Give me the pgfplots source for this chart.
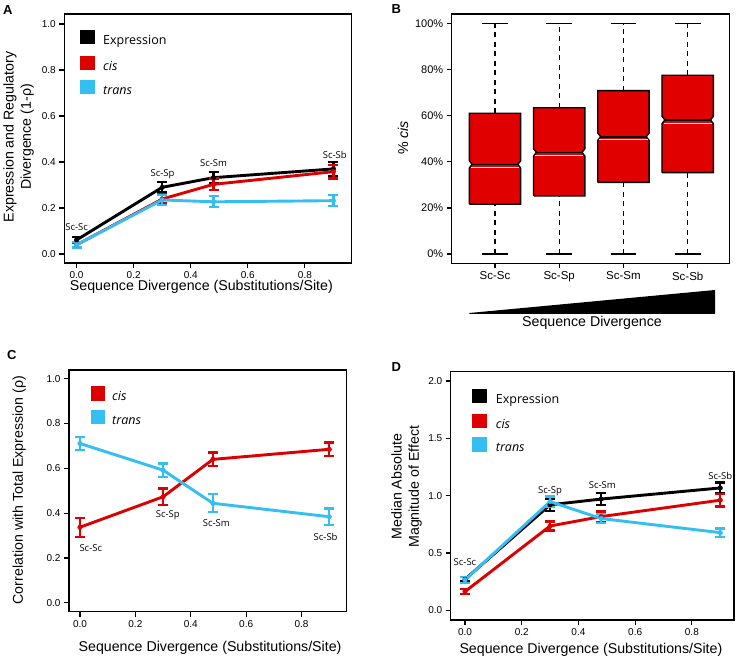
\documentclass[border=0pt]{standalone}
\usepackage{fontspec}
\setmainfont{Liberation Sans}
\newfontfamily\myr{Open Sans}
\usepackage{pgfplots}
\pgfplotsset{compat=1.18}
\definecolor{cisred}{RGB}{220,0,0}
\definecolor{transblue}{RGB}{52,190,242}
\definecolor{boxred}{RGB}{224,0,0}
\pgfplotsset{
 panel/.style={scale only axis, anchor=south west, clip=false,
   axis line style={line width=1.5pt},
   xtick pos=left, ytick pos=left, tick align=outside, major tick length=5pt,
   every tick/.style={black, line width=1.2pt},
   tick label style={font=\fontsize{10}{12}\selectfont},
   /pgf/number format/assume math mode=true,
   label style={font=\fontsize{14.2}{17.3}\selectfont},
   xticklabel style={/pgf/number format/fixed, /pgf/number format/fixed zerofill, /pgf/number format/precision=1},
   yticklabel style={/pgf/number format/fixed, /pgf/number format/fixed zerofill, /pgf/number format/precision=1}},
 ser/.style={line width=2.9pt, mark=*, mark size=2.3pt, mark options={solid, line width=0.4pt},
   error bars/.cd, y dir=both, y explicit,
   error bar style={line width=2.3pt},
   error mark options={rotate=90, mark size=5pt, line width=2.3pt}},
}
\tikzset{ann/.style={font=\myr\fontsize{9.5}{11}\selectfont}}
\begin{document}
\begin{tikzpicture}
\path[use as bounding box] (0pt,0pt) rectangle (737pt,659pt);
% ---------------- A
\begin{axis}[panel, at={(64.3pt,396pt)}, width=287.4pt, height=249pt,
  xmin=-0.043, xmax=0.964, ymin=-0.039, ymax=1.0435,
  xtick={0,0.2,0.4,0.6,0.8}, ytick={0,0.2,0.4,0.6,0.8,1},
  xlabel={Sequence Divergence (Substitutions/Site)},
  xlabel style={at={(axis description cs:0.477,-0.0976)}, anchor=center},
  ylabel={Expression and Regulatory\\Divergence (1-ρ)},
  ylabel style={at={(axis description cs:-0.159,0.506)}, anchor=center, align=center}]
\addplot[black, ser] table[x=x, y=y, y error=e] {
x y e
0 0.061 0.012
0.3 0.29 0.022
0.48 0.332 0.026
0.9 0.37 0.03
};
\addplot[cisred, ser] table[x=x, y=y, y error=e] {
x y e
0 0.04 0.01
0.3 0.239 0.02
0.48 0.303 0.025
0.9 0.358 0.03
};
\addplot[transblue, ser] table[x=x, y=y, y error=e] {
x y e
0 0.04 0.012
0.3 0.235 0.022
0.48 0.227 0.024
0.9 0.232 0.024
};
\node[ann] at (axis cs:0,0.117) {Sc-Sc};
\node[ann] at (axis cs:0.301,0.348) {Sc-Sp};
\node[ann] at (axis cs:0.48,0.394) {Sc-Sm};
\node[ann] at (axis cs:0.905,0.429) {Sc-Sb};
\end{axis}
% ---------------- B
\begin{axis}[panel, at={(451.7pt,395.7pt)}, width=277.6pt, height=249.3pt,
  xmin=0.326, xmax=4.648, ymin=-4.04, ymax=104.2,
  xtick={1,2,3,4}, xticklabels={Sc-Sc,Sc-Sp,Sc-Sm,Sc-Sb},
  xticklabel style={font=\fontsize{11.5}{13}\selectfont},
  ytick={0,20,40,60,80,100}, yticklabels={0\%,20\%,40\%,60\%,80\%,100\%},
  yticklabel style={font=\fontsize{11}{13}\selectfont},
  ylabel={\% \textit{cis}},
  ylabel style={at={(axis description cs:-0.175,0.503)}, anchor=center}]
% whiskers
\addplot[black, line width=1.4pt, dash pattern=on 5pt off 4.5pt] coordinates {(1,61.1) (1,100)};
\addplot[black, line width=1.4pt, dash pattern=on 5pt off 4.5pt] coordinates {(1,0) (1,21.6)};
\addplot[black, line width=1.4pt, dash pattern=on 5pt off 4.5pt] coordinates {(2,63.5) (2,100)};
\addplot[black, line width=1.4pt, dash pattern=on 5pt off 4.5pt] coordinates {(2,0) (2,25.2)};
\addplot[black, line width=1.4pt, dash pattern=on 5pt off 4.5pt] coordinates {(3,70.9) (3,100)};
\addplot[black, line width=1.4pt, dash pattern=on 5pt off 4.5pt] coordinates {(3,0) (3,31.1)};
\addplot[black, line width=1.4pt, dash pattern=on 5pt off 4.5pt] coordinates {(4,77.6) (4,100)};
\addplot[black, line width=1.4pt, dash pattern=on 5pt off 4.5pt] coordinates {(4,0) (4,35.3)};
% caps
\addplot[black, line width=1.5pt] coordinates {(0.8,100) (1.2,100)};
\addplot[black, line width=1.5pt] coordinates {(0.8,0) (1.2,0)};
\addplot[black, line width=1.5pt] coordinates {(1.8,100) (2.2,100)};
\addplot[black, line width=1.5pt] coordinates {(1.8,0) (2.2,0)};
\addplot[black, line width=1.5pt] coordinates {(2.8,100) (3.2,100)};
\addplot[black, line width=1.5pt] coordinates {(2.8,0) (3.2,0)};
\addplot[black, line width=1.5pt] coordinates {(3.8,100) (4.2,100)};
\addplot[black, line width=1.5pt] coordinates {(3.8,0) (4.2,0)};
% notched boxes
\addplot[draw=black, fill=boxred, line width=1.4pt, line join=miter] coordinates {(0.6,21.6) (1.4,21.6) (1.4,37.3) (1.355,38.9) (1.4,40.5) (1.4,61.1) (0.6,61.1) (0.6,40.5) (0.645,38.9) (0.6,37.3) (0.6,21.6)};
\addplot[draw=black, fill=boxred, line width=1.4pt, line join=miter] coordinates {(1.6,25.2) (2.4,25.2) (2.4,42.5) (2.355,44.1) (2.4,45.7) (2.4,63.5) (1.6,63.5) (1.6,45.7) (1.645,44.1) (1.6,42.5) (1.6,25.2)};
\addplot[draw=black, fill=boxred, line width=1.4pt, line join=miter] coordinates {(2.6,31.1) (3.4,31.1) (3.4,49.3) (3.355,50.9) (3.4,52.5) (3.4,70.9) (2.6,70.9) (2.6,52.5) (2.645,50.9) (2.6,49.3) (2.6,31.1)};
\addplot[draw=black, fill=boxred, line width=1.4pt, line join=miter] coordinates {(3.6,35.3) (4.4,35.3) (4.4,56.6) (4.355,58.2) (4.4,59.8) (4.4,77.6) (3.6,77.6) (3.6,59.8) (3.645,58.2) (3.6,56.6) (3.6,35.3)};
% medians
\addplot[black, line width=1.6pt] coordinates {(0.645,38.9) (1.355,38.9)};
\addplot[white, line width=0.8pt] coordinates {(0.625,37.6) (1.375,37.6)};
\addplot[black, line width=1.6pt] coordinates {(1.645,44.1) (2.355,44.1)};
\addplot[white, line width=0.8pt] coordinates {(1.625,42.8) (2.375,42.8)};
\addplot[black, line width=1.6pt] coordinates {(2.645,50.9) (3.355,50.9)};
\addplot[white, line width=0.8pt] coordinates {(2.625,49.6) (3.375,49.6)};
\addplot[black, line width=1.6pt] coordinates {(3.645,58.2) (4.355,58.2)};
\addplot[white, line width=0.8pt] coordinates {(3.625,56.9) (4.375,56.9)};
\end{axis}
% ---------------- C
\begin{axis}[panel, at={(69pt,47.3pt)}, width=277.7pt, height=241.7pt,
  xmin=-0.0397, xmax=0.963, ymin=-0.04, ymax=1.039,
  xtick={0,0.2,0.4,0.6,0.8}, ytick={0,0.2,0.4,0.6,0.8,1},
  xlabel={Sequence Divergence (Substitutions/Site)},
  xlabel style={at={(axis description cs:0.508,-0.151)}, anchor=center},
  ylabel={Correlation with Total Expression (ρ)},
  ylabel style={at={(axis description cs:-0.179,0.503)}, anchor=center}]
\addplot[cisred, ser] table[x=x, y=y, y error=e] {
x y e
0 0.337 0.042
0.3 0.473 0.037
0.48 0.64 0.031
0.9 0.685 0.03
};
\addplot[transblue, ser] table[x=x, y=y, y error=e] {
x y e
0 0.711 0.03
0.3 0.592 0.03
0.48 0.444 0.04
0.9 0.384 0.037
};
\node[ann] at (axis cs:0.039,0.243) {Sc-Sc};
\node[ann] at (axis cs:0.317,0.39) {Sc-Sp};
\node[ann] at (axis cs:0.492,0.357) {Sc-Sm};
\node[ann] at (axis cs:0.887,0.295) {Sc-Sb};
\end{axis}
% ---------------- D
\begin{axis}[panel, at={(450.7pt,39pt)}, width=283.3pt, height=248.3pt,
  xmin=-0.0504, xmax=0.9485, ymin=-0.085, ymax=2.081,
  xtick={0,0.2,0.4,0.6,0.8}, ytick={0,0.5,1,1.5,2},
  xlabel={Sequence Divergence (Substitutions/Site)},
  xlabel style={at={(axis description cs:0.495,-0.121)}, anchor=center},
  ylabel={Median Absolute\\Magnitude of Effect},
  ylabel style={at={(axis description cs:-0.156,0.537)}, anchor=center, align=center}]
\addplot[black, ser] table[x=x, y=y, y error=e] {
x y e
0 0.27 0.02
0.3 0.92 0.055
0.48 0.97 0.05
0.9 1.067 0.047
};
\addplot[cisred, ser] table[x=x, y=y, y error=e] {
x y e
0 0.163 0.02
0.3 0.735 0.04
0.48 0.817 0.045
0.9 0.96 0.054
};
\addplot[transblue, ser] table[x=x, y=y, y error=e] {
x y e
0 0.265 0.025
0.3 0.948 0.045
0.48 0.80 0.04
0.9 0.677 0.035
};
\node[ann] at (axis cs:0,0.424) {Sc-Sc};
\node[ann] at (axis cs:0.30,1.04) {Sc-Sp};
\node[ann] at (axis cs:0.484,1.09) {Sc-Sm};
\node[ann] at (axis cs:0.9,1.17) {Sc-Sb};
\end{axis}
% ---------------- legends
\tikzset{legt/.style={anchor=base west, inner sep=0pt, font=\myr\fontsize{12.5}{14}\selectfont}}
\fill[black] (80pt,614.75pt) rectangle (94.5pt,629.25pt);
\node[legt] at (103pt,614.5pt) {Expression};
\fill[cisred] (80pt,588.75pt) rectangle (94.5pt,603.25pt);
\node[legt] at (103pt,588.5pt) {\itshape cis};
\fill[transblue] (80pt,564.75pt) rectangle (94.5pt,579.25pt);
\node[legt] at (103pt,564.5pt) {\itshape trans};
\fill[cisred] (90.7pt,258.45pt) rectangle (105.2pt,272.95pt);
\node[legt] at (112pt,258.2pt) {\itshape cis};
\fill[transblue] (90.7pt,234.75pt) rectangle (105.2pt,249.25pt);
\node[legt] at (112pt,234.5pt) {\itshape trans};
\fill[black] (472.3pt,255.75pt) rectangle (486.8pt,270.25pt);
\node[legt] at (495.7pt,255.5pt) {Expression};
\fill[cisred] (472.3pt,230.75pt) rectangle (486.8pt,245.25pt);
\node[legt] at (495.7pt,230.5pt) {\itshape cis};
\fill[transblue] (472.3pt,207.25pt) rectangle (486.8pt,221.75pt);
\node[legt] at (495.7pt,207pt) {\itshape trans};
% ---------------- B wedge and label
\fill[black] (469.3pt,345pt) -- (715pt,345pt) -- (715pt,369pt) -- (469.3pt,346pt) -- cycle;
\node[font=\fontsize{14.2}{17}\selectfont] at (592pt,336pt) {Sequence Divergence};
% ---------------- panel letters
\tikzset{plab/.style={font=\bfseries\fontsize{13}{15}\selectfont, inner sep=0pt}}
\node[plab] at (7.7pt,648.5pt) {A};
\node[plab] at (396.3pt,649.5pt) {B};
\node[plab] at (11.7pt,304pt) {C};
\node[plab] at (396.2pt,292.3pt) {D};
\end{tikzpicture}
\end{document}
